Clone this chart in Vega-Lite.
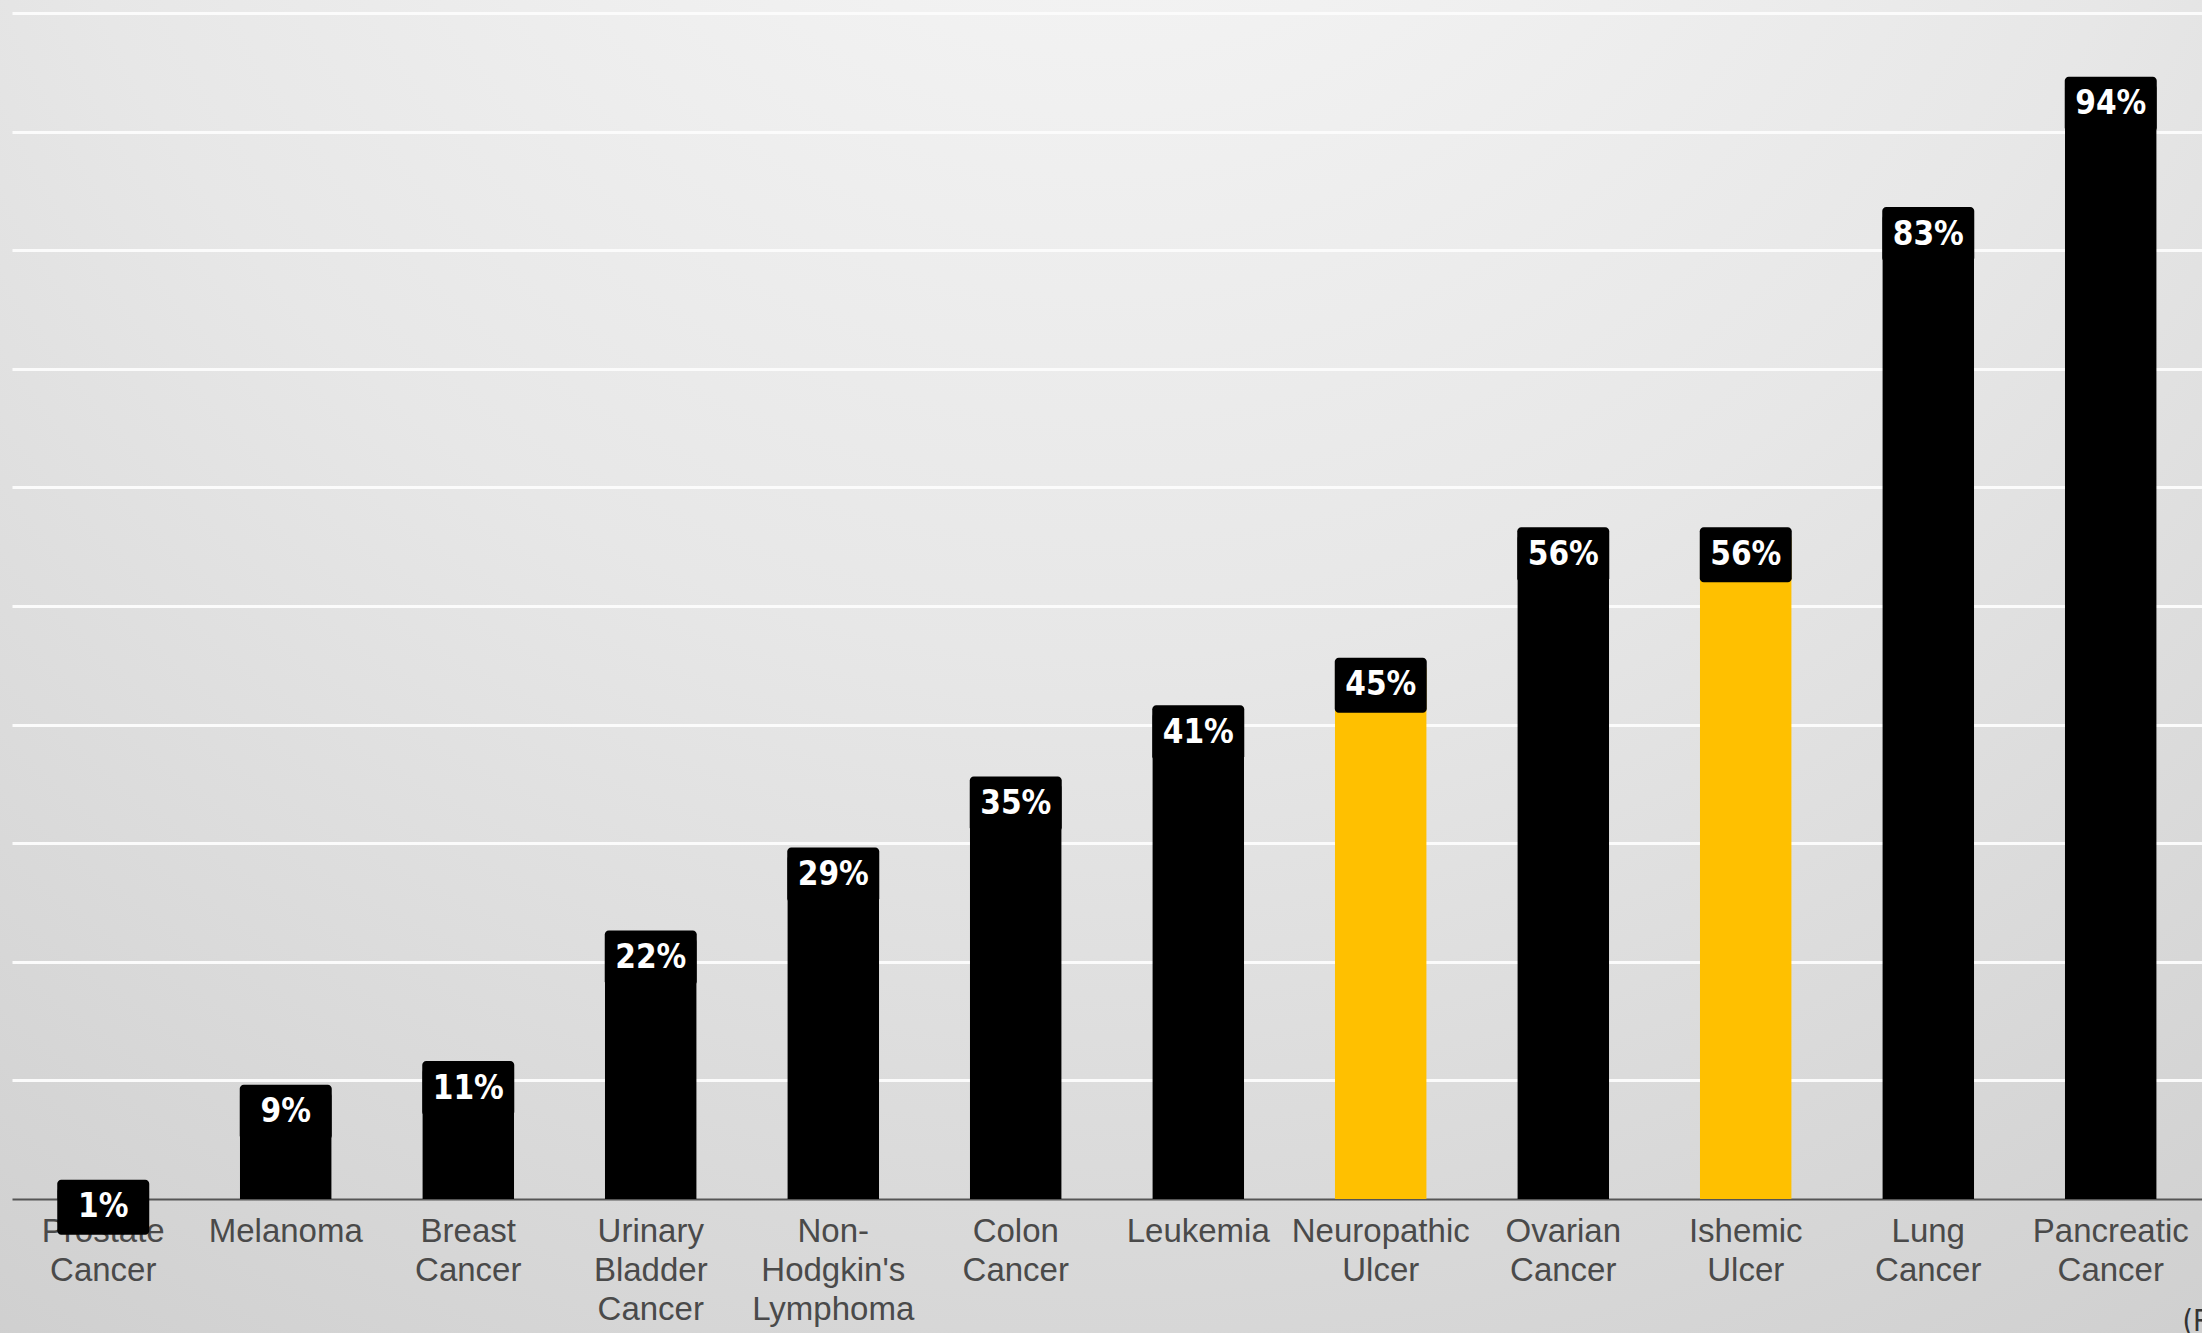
{
  "$schema": "https://vega.github.io/schema/vega-lite/v6.json",
  "width": 2202,
  "height": 1333,
  "autosize": "none",
  "padding": 0,
  "background": "#c9c9c9",
  "config": {
    "view": {
      "stroke": null,
      "fill": {
        "gradient": "radial",
        "x1": 0.5, "y1": 0, "r1": 0,
        "x2": 0.5, "y2": 0, "r2": 1.1,
        "stops": [
          {"offset": 0, "color": "#f9f9f9"},
          {"offset": 0.45, "color": "#e7e7e7"},
          {"offset": 0.8, "color": "#d3d3d3"},
          {"offset": 1, "color": "#c8c8c8"}
        ]
      }
    }
  },
  "data": {
    "values": [
      {"disease": "Prostate Cancer", "pct": 1, "group": "cancer"},
      {"disease": "Melanoma", "pct": 9, "group": "cancer"},
      {"disease": "Breast Cancer", "pct": 11, "group": "cancer"},
      {"disease": "Urinary Bladder Cancer", "pct": 22, "group": "cancer"},
      {"disease": "Non-Hodgkin's Lymphoma", "pct": 29, "group": "cancer"},
      {"disease": "Colon Cancer", "pct": 35, "group": "cancer"},
      {"disease": "Leukemia", "pct": 41, "group": "cancer"},
      {"disease": "Neuropathic Ulcer", "pct": 45, "group": "ulcer"},
      {"disease": "Ovarian Cancer", "pct": 56, "group": "cancer"},
      {"disease": "Ishemic Ulcer", "pct": 56, "group": "ulcer"},
      {"disease": "Lung Cancer", "pct": 83, "group": "cancer"},
      {"disease": "Pancreatic Cancer", "pct": 94, "group": "cancer"}
    ]
  },
  "encoding": {
    "x": {
      "field": "disease",
      "type": "nominal",
      "sort": null,
      "scale": {"range": [12, 2202], "paddingInner": 0.496, "paddingOuter": 0.248},
      "axis": {
        "title": "(R",
        "titleX": 2182,
        "titleY": 131,
        "titleAlign": "left",
        "titleBaseline": "alphabetic",
        "titleFontSize": 30,
        "titleFontWeight": "normal",
        "titleFont": "DejaVu Sans Condensed, Liberation Sans",
        "titleColor": "#333333",
        "offset": -134,
        "labelAngle": 0,
        "labelExpr": "split(replace(datum.label, '-', '- '), ' ')",
        "labelFont": "Liberation Sans, Arial, sans-serif",
        "labelFontSize": 33,
        "labelLineHeight": 39,
        "labelColor": "#4a4a4a",
        "labelPadding": 16,
        "labelBaseline": "top",
        "ticks": false,
        "domainColor": "#555555",
        "domainWidth": 2,
        "grid": false
      }
    },
    "y": {
      "field": "pct",
      "type": "quantitative",
      "scale": {"domain": [0, 100], "range": [1199, 13]},
      "axis": {
        "title": null,
        "labels": false,
        "ticks": false,
        "domain": false,
        "grid": true,
        "values": [10, 20, 30, 40, 50, 60, 70, 80, 90, 100],
        "gridColor": "#fbfbfb",
        "gridWidth": 3
      }
    }
  },
  "layer": [
    {
      "mark": {"type": "bar", "cornerRadiusTopLeft": 4, "cornerRadiusTopRight": 4},
      "encoding": {
        "color": {
          "field": "group",
          "type": "nominal",
          "scale": {"domain": ["cancer", "ulcer"], "range": ["#000000", "#ffc000"]},
          "legend": null
        }
      }
    },
    {
      "mark": {"type": "tick", "color": "#000000", "size": 92, "thickness": 55, "yOffset": 20, "cornerRadius": 4, "opacity": 1},
      "encoding": {}
    },
    {
      "mark": {
        "type": "text",
        "color": "#ffffff",
        "font": "DejaVu Sans Condensed, Liberation Sans",
        "fontWeight": "bold",
        "fontSize": 33,
        "baseline": "middle",
        "align": "center",
        "dy": 20,
        "text": {"expr": "datum.pct + '%'"}
      },
      "encoding": {}
    }
  ]
}
